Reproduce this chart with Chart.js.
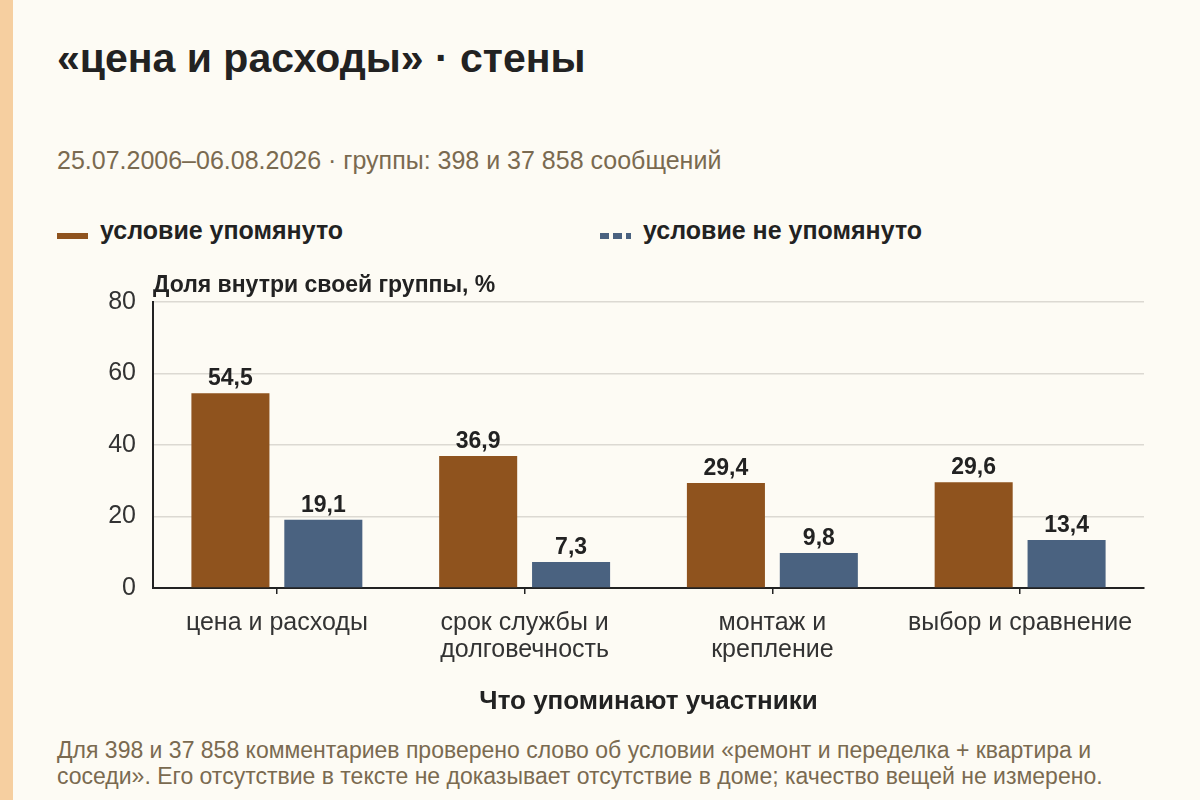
<!DOCTYPE html>
<html lang="ru">
<head>
<meta charset="utf-8">
<script src="https://cdn.jsdelivr.net/npm/chart.js@4.4.1/dist/chart.umd.min.js"></script>
<style>
  html, body { margin: 0; padding: 0; }
  body {
    width: 1200px; height: 800px; position: relative; overflow: hidden;
    background: #fdfbf4; font-family: "Liberation Sans", Arial, sans-serif;
  }
  .strip { position: absolute; left: 0; top: 0; width: 13px; height: 800px; background: #f6cfa0; }
  h1 { position: absolute; left: 57px; top: 38px; margin: 0; font-size: 41px; line-height: 1; font-weight: bold; color: #222; white-space: nowrap; }
  .sub { position: absolute; left: 57px; top: 148px; font-size: 25px; line-height: 1; color: #7a6a50; white-space: nowrap; }
  .legend { position: absolute; top: 218px; font-size: 25px; line-height: 1; font-weight: bold; color: #222; }
  .sw { position: absolute; top: 15px; width: 31px; height: 6px; }
  .legend span.t { position: absolute; white-space: nowrap; }
  .note { position: absolute; left: 57px; top: 737px; width: 1100px; font-size: 23px; line-height: 26px; color: #7a6a50; }
  #wrap { position: absolute; left: 0; top: 260px; width: 1200px; height: 460px; }
</style>
</head>
<body>
<div class="strip"></div>
<h1>«цена и расходы» · стены</h1>
<div class="sub">25.07.2006–06.08.2026 · группы: 398 и 37 858 сообщений</div>
<div class="legend" style="left:57px">
  <div class="sw" style="left:0; background:#8f531e"></div>
  <span class="t" style="left:43px">условие упомянуто</span>
</div>
<div class="legend" style="left:600px">
  <div class="sw" style="left:0; background:repeating-linear-gradient(to right, #4a6280 0 9px, transparent 9px 13px)"></div>
  <span class="t" style="left:43px">условие не упомянуто</span>
</div>
<div id="wrap"><canvas id="chart"></canvas></div>
<div class="note">Для 398 и 37 858 комментариев проверено слово об условии «ремонт и переделка + квартира и соседи». Его отсутствие в тексте не доказывает отсутствие в доме; качество вещей не измерено.</div>

<script>
const categories = [
  'цена и расходы',
  ['срок службы и', 'долговечность'],
  ['монтаж и', 'крепление'],
  'выбор и сравнение'
];
const mentioned = [54.5, 36.9, 29.4, 29.6];
const notMentioned = [19.1, 7.3, 9.8, 13.4];
const yTicks = [0, 20, 40, 60, 80];

const FONT = '"Liberation Sans", Arial, sans-serif';
const fmt = v => v.toFixed(1).replace('.', ',');

// value labels above bars
const valueLabels = {
  id: 'valueLabels',
  afterDatasetsDraw(chart) {
    const ctx = chart.ctx;
    ctx.save();
    ctx.font = 'bold 23px ' + FONT;
    ctx.fillStyle = '#222';
    ctx.textAlign = 'center';
    ctx.textBaseline = 'alphabetic';
    chart.data.datasets.forEach((ds, i) => {
      chart.getDatasetMeta(i).data.forEach((bar, j) => {
        ctx.fillText(fmt(ds.data[j]), bar.x, bar.y - 8);
      });
    });
    ctx.restore();
  }
};

// horizontal y title above the plot
const yTitle = {
  id: 'yTitle',
  afterDraw(chart) {
    const ctx = chart.ctx;
    ctx.save();
    ctx.font = 'bold 23px ' + FONT;
    ctx.fillStyle = '#222';
    ctx.textAlign = 'left';
    ctx.textBaseline = 'middle';
    ctx.fillText('Доля внутри своей группы, %', chart.chartArea.left, chart.chartArea.top - 16);
    ctx.restore();
  }
};

new Chart(document.getElementById('chart'), {
  type: 'bar',
  data: {
    labels: categories,
    datasets: [
      { label: 'условие упомянуто', data: mentioned, backgroundColor: '#8f531e' },
      { label: 'условие не упомянуто', data: notMentioned, backgroundColor: '#4a6280' }
    ]
  },
  options: {
    responsive: true,
    maintainAspectRatio: false,
    animation: false,
    categoryPercentage: 0.75,
    barPercentage: 0.84,
    layout: { padding: { top: 42, right: 56, left: 0, bottom: 0 } },
    plugins: {
      legend: { display: false },
      tooltip: { enabled: false }
    },
    scales: {
      x: {
        afterFit: s => { s.height = 132; },
        grid: { display: true, offset: false, drawOnChartArea: false, drawTicks: true, tickLength: 6, tickColor: '#222', lineWidth: 1.5 },
        border: { color: '#222', width: 2 },
        ticks: { color: '#333', font: { size: 25, family: FONT, lineHeight: 1.1 }, padding: 15, maxRotation: 0, autoSkip: false },
        title: {
          display: true,
          text: 'Что упоминают участники',
          color: '#222',
          font: { size: 26, weight: 'bold', family: FONT, lineHeight: 1.2 },
          padding: { top: 0, bottom: 3 }
        }
      },
      y: {
        min: 0,
        max: 80,
        afterBuildTicks: s => { s.ticks = yTicks.map(v => ({ value: v })); },
        afterFit: s => { s.width = 153; },
        grid: { color: '#dcd9d2', lineWidth: 1.5, drawTicks: false },
        border: { color: '#222', width: 2 },
        ticks: { color: '#333', font: { size: 25, family: FONT }, padding: 17 }
      }
    }
  },
  plugins: [valueLabels, yTitle]
});
</script>
</body>
</html>
